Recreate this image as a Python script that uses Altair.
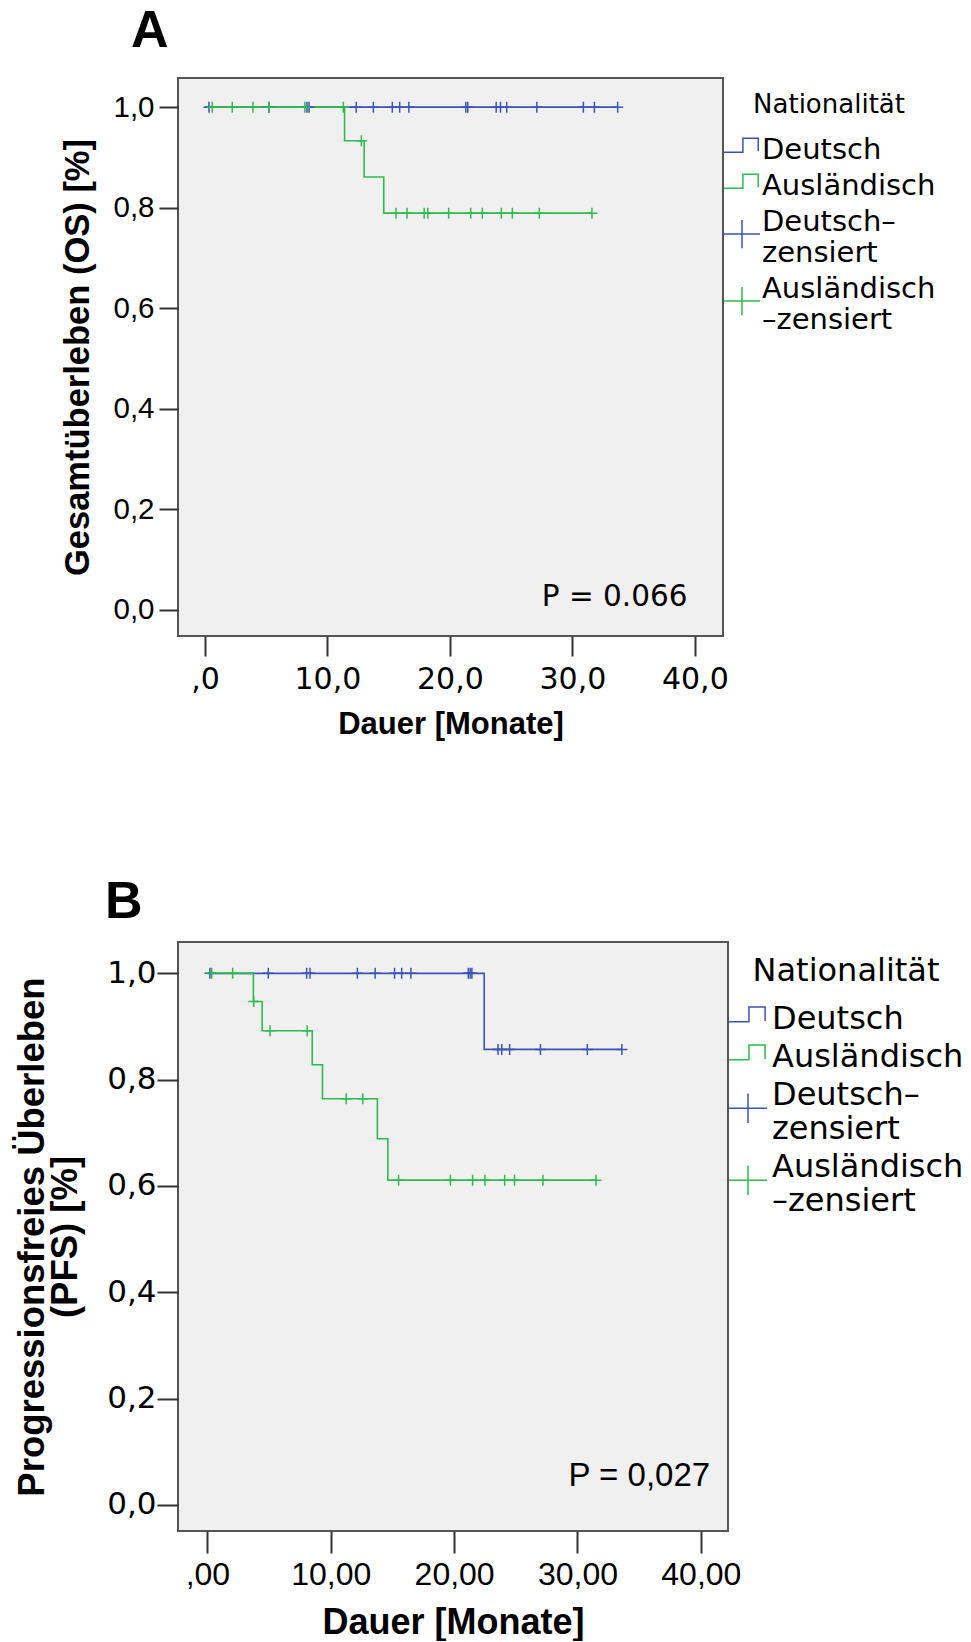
import altair as alt
import pandas as pd

BLUE = "#3b53b3"
GREEN = "#2fba4f"

SERIES = ["Deutsch", "Ausländisch", "Deutsch-zensiert", "Ausländisch-zensiert"]

# ---------------- Panel A (OS) ----------------
a_de_censor = [0.33, 5.22, 8.33, 8.5, 12.35, 13.75, 15.3, 15.9, 16.65, 21.3, 21.46,
               23.78, 24.13, 24.64, 27.1, 30.9, 31.8, 33.7]
a_de_events = []
a_de_levels = []
a_de_end = 33.7

a_au_censor = [0.6, 2.23, 3.92, 5.22, 8.16, 11.3, 12.77, 15.6, 16.5, 17.9, 18.2, 19.9,
               21.7, 22.65, 24.2, 25.1, 27.3, 31.6]
a_au_events = [11.4, 13.0, 14.6]
a_au_levels = [0.933, 0.861, 0.789]
a_au_end = 31.6

a_p_text = ["P = 0.066"]
a_p_x = [39.4]
a_p_y = [0.025]

# ---------------- Panel B (PFS) ----------------
b_de_censor = [0.21, 4.94, 8.05, 8.32, 12.16, 13.6, 15.17, 15.75, 16.5, 21.15, 21.3, 21.44,
               23.56, 23.86, 24.5, 27.0, 30.8, 33.6]
b_de_events = [22.44]
b_de_levels = [0.857]
b_de_end = 33.6

b_au_censor = [0.35, 2.05, 3.76, 5.08, 8.09, 11.25, 12.6, 15.5, 19.7, 21.5, 22.5, 24.1,
               24.9, 27.2, 31.5]
b_au_events = [3.73, 4.44, 8.5, 9.33, 13.78, 14.63]
b_au_levels = [0.947, 0.892, 0.828, 0.764, 0.689, 0.611]
b_au_end = 31.5

b_p_text = ["P = 0,027"]
b_p_x = [40.75]
b_p_y = [0.055]


def step_df(events, levels, end, name):
    ts = [0.0] + list(events) + [end]
    ss = [1.0] + list(levels) + [levels[-1] if levels else 1.0]
    return pd.DataFrame({"t": ts, "s": ss, "series": name, "i": range(len(ts))})


def level_at(t, events, levels):
    s = 1.0
    for e, l in zip(events, levels):
        if e <= t:
            s = l
    return s


def censor_df(cens, events, levels, name):
    return pd.DataFrame({"t": cens, "s": [level_at(c, events, levels) for c in cens],
                         "series": name})


LEG_DF = pd.DataFrame({"t": [-60.0] * 4, "s": [-5.0] * 4, "series": SERIES})

LABEL_EXPR = ("datum.label == 'Deutsch-zensiert' ? ['Deutsch–', 'zensiert'] : "
              "datum.label == 'Ausländisch-zensiert' ? ['Ausländisch', '–zensiert'] : datum.label")

STEP = "M-1,0.15L0.05,0.15L0.05,-0.63L0.9,-0.63L0.9,0.1"
PLUS = "M-1,0.7L1,0.7M0,-0.08L0,1.48"
CROSS = "M-1,0L1,0M0,-1L0,1"


def panel(de_line, au_line, de_c, au_c, p_df, xdom, ydom, w, h, xaxis, yaxis, legend, title):
    xs = alt.Scale(domain=xdom, nice=False, zero=False)
    ys = alt.Scale(domain=ydom, nice=False, zero=False)
    l1 = alt.Chart(de_line).mark_line(interpolate="step-after", color=BLUE, strokeWidth=1.6).encode(
        x=alt.X("t:Q", scale=xs, axis=xaxis),
        y=alt.Y("s:Q", scale=ys, axis=yaxis),
        order="i:Q",
    )
    l2 = alt.Chart(au_line).mark_line(interpolate="step-after", color=GREEN, strokeWidth=1.6).encode(
        x="t:Q", y="s:Q", order="i:Q")
    cens = pd.concat([de_c, au_c], ignore_index=True)
    pts = alt.Chart(cens).mark_point(shape=CROSS, filled=False, size=121, strokeWidth=1.5, opacity=1).encode(
        x="t:Q", y="s:Q",
        stroke=alt.Stroke("series:N", scale=alt.Scale(domain=["Deutsch-zensiert", "Ausländisch-zensiert"],
                                                      range=[BLUE, GREEN]), legend=None),
    )
    leg = alt.Chart(LEG_DF).mark_point(filled=False, clip=True, strokeWidth=1.5, opacity=1).encode(
        x="t:Q", y="s:Q",
        color=alt.Color("series:N", scale=alt.Scale(domain=SERIES, range=[BLUE, GREEN, BLUE, GREEN]),
                        legend=legend),
        shape=alt.Shape("series:N", scale=alt.Scale(domain=SERIES, range=[STEP, STEP, PLUS, PLUS]),
                        legend=legend),
    )
    txt = alt.Chart(p_df).mark_text(align="right", baseline="middle", color="black",
                                    font=p_df.attrs["font"], fontSize=p_df.attrs["size"]).encode(
        x="t:Q", y="s:Q", text="label:N")
    return alt.layer(l1, l2, pts, leg, txt).properties(width=w, height=h, title=title)


def yaxis(title, font, size, tick, pad, tsize, tpad):
    return alt.Axis(title=title, values=[0, 0.2, 0.4, 0.6, 0.8, 1.0],
                    labelExpr="replace(format(datum.value, '.1f'), '.', ',')",
                    domain=False, grid=False, tickSize=tick, tickWidth=2, tickColor="#333",
                    labelFont=font, labelFontSize=size, labelColor="black", labelPadding=pad,
                    titleFont="Liberation Sans", titleFontSize=tsize, titleFontWeight="bold",
                    titleColor="black", titlePadding=tpad, titleLineHeight=33.5)


def xaxis(fmt, zero_lbl, font, size, tick, pad, tsize, tpad):
    return alt.Axis(title="Dauer [Monate]", values=[0, 10, 20, 30, 40],
                    labelExpr=f"datum.value == 0 ? '{zero_lbl}' : replace(format(datum.value, '{fmt}'), '.', ',')",
                    domain=False, grid=False, tickSize=tick, tickWidth=2, tickColor="#333",
                    labelFont=font, labelFontSize=size, labelColor="black", labelPadding=pad,
                    labelFlush=False, labelOverlap=False,
                    titleFont="Liberation Sans", titleFontSize=tsize, titleFontWeight="bold",
                    titleColor="black", titlePadding=tpad)


def legend(x, y, tsize, lsize, tpad, rpad, lofs, ssize):
    return alt.Legend(title="Nationalität", orient="none", legendX=x, legendY=y, direction="vertical",
                      titleFont="DejaVu Sans", titleFontSize=tsize, titleFontWeight="normal",
                      titleColor="black", titleAnchor="middle", titlePadding=tpad, titleLimit=600,
                      labelFont="DejaVu Sans", labelFontSize=lsize, labelColor="black",
                      labelOffset=lofs, labelLimit=600, labelExpr=LABEL_EXPR,
                      symbolSize=ssize, symbolStrokeWidth=1.5, symbolOffset=0,
                      symbolFillColor="transparent", rowPadding=rpad, padding=0)


pa = pd.DataFrame({"t": a_p_x, "s": a_p_y, "label": a_p_text})
pa.attrs = {"font": "DejaVu Sans", "size": 29.5}
pb = pd.DataFrame({"t": b_p_x, "s": b_p_y, "label": b_p_text})
pb.attrs = {"font": "Liberation Sans", "size": 33}

titleA = alt.TitleParams("A", anchor="start", frame="group", dx=-47, font="Liberation Sans",
                         fontSize=52, fontWeight="bold", color="black", baseline="alphabetic", offset=-21)
titleB = alt.TitleParams("B", anchor="start", frame="group", dx=-73, font="Liberation Sans",
                         fontSize=52, fontWeight="bold", color="black", baseline="alphabetic", offset=-27.5)

panelA = panel(step_df(a_de_events, a_de_levels, a_de_end, "Deutsch"),
               step_df(a_au_events, a_au_levels, a_au_end, "Ausländisch"),
               censor_df(a_de_censor, a_de_events, a_de_levels, "Deutsch-zensiert"),
               censor_df(a_au_censor, a_au_events, a_au_levels, "Ausländisch-zensiert"),
               pa, [-2.2, 42.3], [-0.0525, 1.058], 545, 558,
               xaxis(".1f", ",0", "DejaVu Sans", 30, 20, 8, 31, 15),
               yaxis("Gesamtüberleben (OS) [%]", "Liberation Sans", 29.5, 19, 5, 34.5, 17),
               legend(545, 13.5, 26, 29, 13, 2, 1, 1296), titleA)

panelB = panel(step_df(b_de_events, b_de_levels, b_de_end, "Deutsch"),
               step_df(b_au_events, b_au_levels, b_au_end, "Ausländisch"),
               censor_df(b_de_censor, b_de_events, b_de_levels, "Deutsch-zensiert"),
               censor_df(b_au_censor, b_au_events, b_au_levels, "Ausländisch-zensiert"),
               pb, [-2.38, 42.2], [-0.049, 1.059], 550, 589,
               xaxis(".2f", ",00", "Liberation Sans", 32, 22, 6, 36, 15),
               yaxis(["Progressionsfreies Überleben", "(PFS) [%]"], "DejaVu Sans", 31, 21, 1, 36.5, 22),
               legend(550, 14, 32, 32, 11, 2, 4, 1444), titleB)

chart = alt.vconcat(panelA, panelB, spacing=134).resolve_scale(
    x="independent", y="independent", color="independent", shape="independent", stroke="independent"
).properties(
    padding={"left": 13, "top": 4, "right": 0, "bottom": 0}
).configure(background="white").configure_view(fill="#f0f0f0", stroke="#555", strokeWidth=2)

chart.save("out.html", embed_options={"renderer": "svg", "actions": False})
